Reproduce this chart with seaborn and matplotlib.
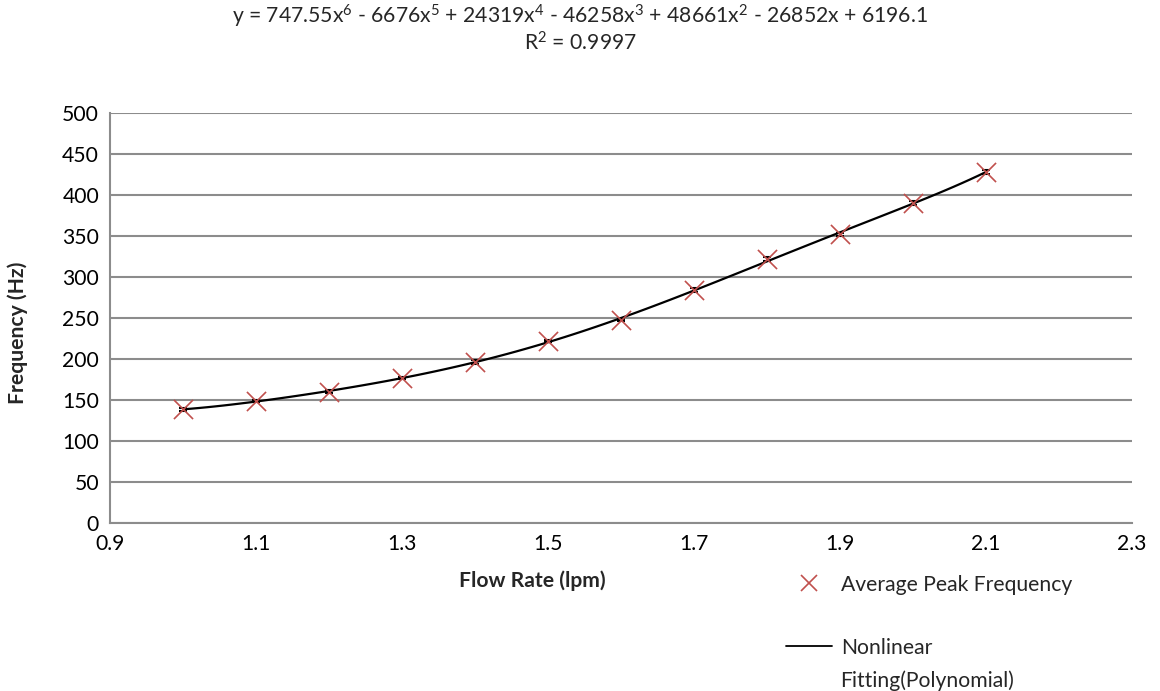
import matplotlib
matplotlib.use('Agg')
import matplotlib.pyplot as plt
import seaborn as sns
import pandas as pd
from matplotlib.lines import Line2D

flow_rate = [1.0, 1.1, 1.2, 1.3, 1.4, 1.5, 1.6, 1.7, 1.8, 1.9, 2.0, 2.1]
peak_freq = [138.6, 148.8, 160.2, 177.2, 196.3, 221.9, 247.6, 284.1, 321.5, 352.0, 390.7, 428.0]
freq_err = [1.5, 1.0, 1.5, 1.5, 2.0, 1.5, 1.5, 2.0, 2.5, 2.0, 2.5, 2.5]

x_ticks = [0.9, 1.1, 1.3, 1.5, 1.7, 1.9, 2.1, 2.3]
y_ticks = [0, 50, 100, 150, 200, 250, 300, 350, 400, 450, 500]

eq_text = ('y = 747.55x$^{6}$ - 6676x$^{5}$ + 24319x$^{4}$ - 46258x$^{3}$ '
           '+ 48661x$^{2}$ - 26852x + 6196.1')
r2_text = 'R$^{2}$ = 0.9997'

df = pd.DataFrame({'flow': flow_rate, 'freq': peak_freq})

sns.set_style('white')
plt.rcParams['font.family'] = ['Lato', 'DejaVu Sans']
plt.rcParams['mathtext.fontset'] = 'custom'
plt.rcParams['mathtext.rm'] = 'Lato'
plt.rcParams['mathtext.it'] = 'Lato'

red = '#C0504D'
grid_col = '#8C8C8C'
fs = 15.2

fig = plt.figure(figsize=(11.6, 6.91), dpi=100)
ax = fig.add_axes([0.095, 0.243, 0.881, 0.5935])

# tiny error bars behind the markers
ax.errorbar(flow_rate, peak_freq, yerr=freq_err, fmt='none', ecolor='black',
            elinewidth=1.0, capsize=3, capthick=1.5, zorder=2)
# 6th order polynomial trendline
sns.regplot(data=df, x='flow', y='freq', order=6, scatter=False, ci=None,
            color='black', line_kws={'linewidth': 1.6}, ax=ax)
sns.scatterplot(data=df, x='flow', y='freq', marker='x', s=190, color=red,
                linewidth=1.2, ax=ax, zorder=3)

ax.set_xlim(0.9, 2.3)
ax.set_ylim(0, 500)
ax.set_xticks(x_ticks)
ax.set_xticklabels([f'{v:.1f}' for v in x_ticks])
ax.set_yticks(y_ticks)
ax.yaxis.grid(True, color=grid_col, linewidth=1.5)
ax.set_axisbelow(True)
for s in ['top', 'right']:
    ax.spines[s].set_visible(False)
for s in ['left', 'bottom']:
    ax.spines[s].set_color(grid_col)
    ax.spines[s].set_linewidth(1.5)
ax.tick_params(axis='both', length=0, labelsize=fs, colors='black', pad=8)

ax.set_xlabel('Flow Rate (lpm)', fontsize=fs, fontweight='bold')
ax.set_ylabel('Frequency (Hz)', fontsize=fs, fontweight='bold')
ax.xaxis.set_label_coords(0.413, -0.115)
ax.yaxis.set_label_coords(-0.08, 0.463)

fig.text(0.5, 0.996, eq_text, ha='center', va='top', fontsize=fs)
fig.text(0.5, 0.955, r2_text, ha='center', va='top', fontsize=fs)

handles = [Line2D([], [], marker='x', linestyle='none', color=red, markersize=12,
                  markeredgewidth=1.2),
           Line2D([], [], color='black', linewidth=1.3)]
fig.legend(handles, ['Average Peak Frequency', 'Nonlinear'], loc='upper left',
           bbox_to_anchor=(0.661, 0.196), frameon=False, fontsize=fs,
           handlelength=2.2, handletextpad=0.4, labelspacing=2.05)
fig.text(0.724, 0.0, 'Fitting(Polynomial)', fontsize=fs, va='bottom')

fig.savefig('out.png', dpi=100)
